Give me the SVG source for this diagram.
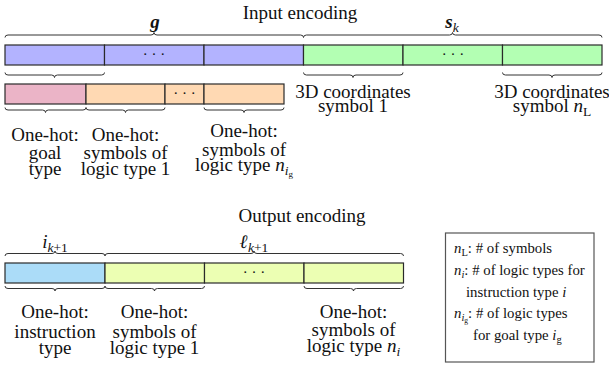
<svg xmlns="http://www.w3.org/2000/svg" width="609" height="365" viewBox="0 0 609 365">
<style>
text{font-family:'Liberation Serif','DejaVu Serif',serif;font-size:19px;fill:#111;text-anchor:middle}
.m{font-style:italic}
.b{font-weight:bold;font-style:italic}
.s{font-size:13.5px}
.dots{font-size:15px}
.lg{font-size:14.8px;text-anchor:start}
.ls{font-size:10.5px}
.seg{stroke:#2a2a2a;stroke-width:1.2}
.br{fill:none;stroke:#333;stroke-width:1}
.blue{fill:#b3b3ff}.green{fill:#b3ffb3}.pink{fill:#ebb4c7}.orange{fill:#ffd9b3}.cyan{fill:#abdcf8}.lime{fill:#ecffb3}
</style>
<g font-family="Liberation Serif, DejaVu Serif, serif">
<text x="300" y="19">Input encoding</text>
<text x="302" y="222">Output encoding</text>

<g id="input-goal">
<rect class="seg blue" x="5" y="45" width="99.5" height="20"/>
<rect class="seg blue" x="104.5" y="45" width="99.5" height="20"/>
<rect class="seg blue" x="204" y="45" width="99.5" height="20"/>
<text class="dots" x="154" y="59">· · ·</text>
<text class="b" x="155" y="28">g</text>
</g>
<g id="input-state">
<rect class="seg green" x="303.5" y="45" width="99.5" height="20"/>
<rect class="seg green" x="403" y="45" width="99.5" height="20"/>
<rect class="seg green" x="502.5" y="45" width="99.5" height="20"/>
<text class="dots" x="453" y="59">· · ·</text>
<text x="452" y="28"><tspan class="b">s</tspan><tspan class="m s" dy="4">k</tspan></text>
<text x="353" y="98">3D coordinates</text>
<text x="353" y="112">symbol 1</text>
<text x="552" y="98">3D coordinates</text>
<text x="552" y="112">symbol <tspan class="m">n</tspan><tspan class="s" dy="4">L</tspan></text>
</g>
<g id="goal-detail">
<rect class="seg pink" x="5" y="84" width="81" height="20"/>
<rect class="seg orange" x="86" y="84" width="79" height="20"/>
<rect class="seg orange" x="165" y="84" width="39" height="20"/>
<rect class="seg orange" x="204" y="84" width="80" height="20"/>
<text class="dots" x="184.5" y="98">· · ·</text>
<text x="45" y="141">One-hot:</text>
<text x="45" y="159">goal</text>
<text x="45" y="175">type</text>
<text x="125.5" y="141">One-hot:</text>
<text x="125.5" y="159">symbols of</text>
<text x="125.5" y="175">logic type 1</text>
<text x="244" y="137">One-hot:</text>
<text x="244" y="156">symbols of</text>
<text x="244" y="171">logic type <tspan class="m">n</tspan><tspan class="m s" dy="4">i</tspan><tspan style="font-size:9px" dy="2">g</tspan></text>
</g>
<g id="output">
<rect class="seg cyan" x="5" y="263" width="100" height="20"/>
<rect class="seg lime" x="105" y="263" width="99.5" height="20"/>
<rect class="seg lime" x="204.5" y="263" width="99.5" height="20"/>
<rect class="seg lime" x="304" y="263" width="99.5" height="20"/>
<text class="dots" x="254" y="277">· · ·</text>
<text x="55" y="248"><tspan class="m">i</tspan><tspan class="s" dy="4"><tspan class="m">k</tspan>+1</tspan></text>
<text x="254" y="248"><tspan class="b">ℓ</tspan><tspan class="s" dy="4"><tspan class="m">k</tspan>+1</tspan></text>
<text x="55" y="318">One-hot:</text>
<text x="55" y="338">instruction</text>
<text x="55" y="354">type</text>
<text x="154.5" y="318">One-hot:</text>
<text x="154.5" y="338">symbols of</text>
<text x="154.5" y="354">logic type 1</text>
<text x="353.5" y="318">One-hot:</text>
<text x="353.5" y="336">symbols of</text>
<text x="353.5" y="352">logic type <tspan class="m">n</tspan><tspan class="m s" dy="4">i</tspan></text>
</g>
<g id="legend">
<rect x="445.5" y="233" width="148.5" height="129" fill="#fff" stroke="#555" stroke-width="1.2"/>
<text class="lg" x="454" y="253"><tspan class="m">n</tspan><tspan class="ls" dy="3">L</tspan><tspan dy="-3">: # of symbols</tspan></text>
<text class="lg" x="454" y="275"><tspan class="m">n</tspan><tspan class="m ls" dy="3">i</tspan><tspan dy="-3">: # of logic types for</tspan></text>
<text class="lg" x="466" y="297">instruction type <tspan class="m">i</tspan></text>
<text class="lg" x="454" y="318"><tspan class="m">n</tspan><tspan class="m ls" dy="3">i</tspan><tspan style="font-size:7.5px" dy="1.5">g</tspan><tspan dy="-4.5">: # of logic types</tspan></text>
<text class="lg" x="473" y="340">for goal type <tspan class="m">i</tspan><tspan class="ls" dy="3">g</tspan></text>
</g>
</g>
<g id="connectors">
<path class="br" d="M5,37.5 Q5,35 8,35 L151,35 Q154,35 154,32.5 Q154,35 157,35 L300.5,35 Q303.5,35 303.5,37.5"/>
<path class="br" d="M303.5,37.5 Q303.5,35 306.5,35 L449.5,35 Q452.5,35 452.5,32.5 Q452.5,35 455.5,35 L599,35 Q602,35 602,37.5"/>
<path class="br" d="M5,72.5 Q5,75 8,75 L51.5,75 Q54.5,75 54.5,77.5 Q54.5,75 57.5,75 L101.5,75 Q104.5,75 104.5,72.5"/>
<path class="br" d="M303.5,72.5 Q303.5,75 306.5,75 L350,75 Q353,75 353,77.5 Q353,75 356,75 L400,75 Q403,75 403,72.5"/>
<path class="br" d="M502.5,72.5 Q502.5,75 505.5,75 L549,75 Q552,75 552,77.5 Q552,75 555,75 L599,75 Q602,75 602,72.5"/>
<path class="br" d="M5,107.5 Q5,110 8,110 L42.5,110 Q45.5,110 45.5,112.5 Q45.5,110 48.5,110 L83,110 Q86,110 86,107.5"/>
<path class="br" d="M86,107.5 Q86,110 89,110 L122.5,110 Q125.5,110 125.5,112.5 Q125.5,110 128.5,110 L162,110 Q165,110 165,107.5"/>
<path class="br" d="M204,107.5 Q204,110 207,110 L241,110 Q244,110 244,112.5 Q244,110 247,110 L281,110 Q284,110 284,107.5"/>
<path class="br" d="M5,256 Q5,253.5 8,253.5 L52,253.5 Q55,253.5 55,251 Q55,253.5 58,253.5 L102,253.5 Q105,253.5 105,256"/>
<path class="br" d="M105,256 Q105,253.5 108,253.5 L251,253.5 Q254,253.5 254,251 Q254,253.5 257,253.5 L400.5,253.5 Q403.5,253.5 403.5,256"/>
<path class="br" d="M5,286 Q5,288.5 8,288.5 L52,288.5 Q55,288.5 55,291 Q55,288.5 58,288.5 L102,288.5 Q105,288.5 105,286"/>
<path class="br" d="M105,286 Q105,288.5 108,288.5 L151.5,288.5 Q154.5,288.5 154.5,291 Q154.5,288.5 157.5,288.5 L201.5,288.5 Q204.5,288.5 204.5,286"/>
<path class="br" d="M304,286 Q304,288.5 307,288.5 L350.5,288.5 Q353.5,288.5 353.5,291 Q353.5,288.5 356.5,288.5 L400.5,288.5 Q403.5,288.5 403.5,286"/>
</g>
</svg>
